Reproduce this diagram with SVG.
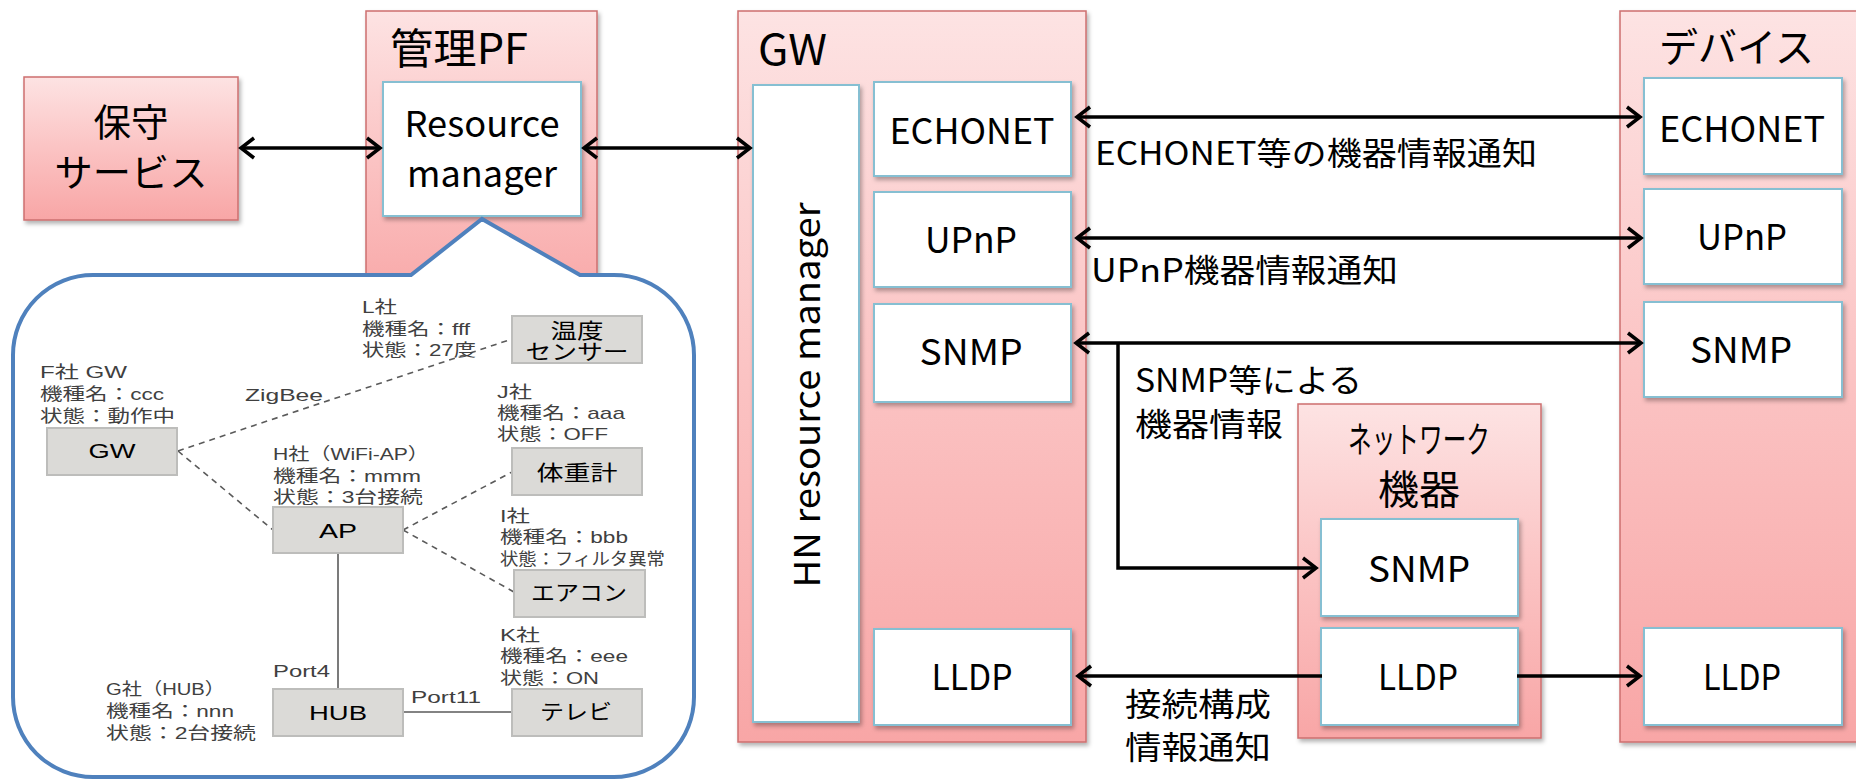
<svg xmlns="http://www.w3.org/2000/svg" width="1856" height="780" viewBox="0 0 1856 780">
<style>
.pk{fill:url(#pinkG);stroke:#cd6f6f;stroke-width:1.5}
.wb{fill:#fff;stroke:#86bfd2;stroke-width:2}
.t{font-family:"Noto Sans CJK JP","Noto Sans",sans-serif;fill:#000}
.m{font-size:36px;text-anchor:middle}
.lb{font-size:32px}
.ib{fill:#dbdad7;stroke:#bdbdbb;stroke-width:2}
.il{font-family:"Liberation Sans","Noto Sans CJK JP",sans-serif;font-size:17px;fill:#404040}
.it{font-family:"Liberation Sans","Noto Sans CJK JP",sans-serif;font-size:21px;fill:#000;text-anchor:middle}
.ar{fill:none;stroke:#000;stroke-width:3.5}
.dl{fill:none;stroke:#5a5a5a;stroke-width:1.6;stroke-dasharray:6 5}
.sl{fill:none;stroke:#5a5a5a;stroke-width:1.6}
</style>
<defs>
<linearGradient id="pinkG" x1="0" y1="0" x2="0" y2="1">
<stop offset="0" stop-color="#fde3e3"/>
<stop offset="0.5" stop-color="#fbc3c3"/>
<stop offset="1" stop-color="#f8a6a6"/>
</linearGradient>
<filter id="sh" x="-10%" y="-10%" width="130%" height="130%">
<feDropShadow dx="2" dy="3" stdDeviation="2" flood-color="#000" flood-opacity="0.3"/>
</filter>
<marker id="ah" viewBox="-16 -12 21 24" refX="0" refY="0" markerWidth="21" markerHeight="24" markerUnits="userSpaceOnUse" orient="auto-start-reverse">
<path d="M-13,-10 L0,0 L-13,10" fill="none" stroke="#000" stroke-width="3.5"/>
</marker>
</defs>
<rect width="1856" height="780" fill="#fff"/>

<g id="hoshu">
<rect class="pk" x="24" y="77" width="214" height="143" filter="url(#sh)"/>
<text class="t" x="131" y="136" font-size="38" text-anchor="middle" textLength="75" lengthAdjust="spacingAndGlyphs">保守</text>
<text class="t" x="131" y="186" font-size="38" text-anchor="middle" textLength="153" lengthAdjust="spacingAndGlyphs">サービス</text>
</g>

<g id="kanri-pf">
<rect class="pk" x="366" y="11" width="231" height="300" filter="url(#sh)"/>
<text class="t" x="390" y="64" font-size="42" textLength="138" lengthAdjust="spacingAndGlyphs">管理PF</text>
</g>

<g id="resource-manager">
<rect class="wb" x="383" y="82" width="198" height="134" filter="url(#sh)"/>
<text class="t m" x="482" y="137" textLength="155" lengthAdjust="spacingAndGlyphs">Resource</text>
<text class="t m" x="482" y="187" textLength="150" lengthAdjust="spacingAndGlyphs">manager</text>
</g>

<g id="gw">
<rect class="pk" x="738" y="11" width="348" height="731" filter="url(#sh)"/>
<text class="t" x="758" y="65" font-size="42" textLength="69" lengthAdjust="spacingAndGlyphs">GW</text>
</g>
<g id="hn-resource-manager">
<rect class="wb" x="753" y="85" width="106" height="637" filter="url(#sh)"/>
<text class="t" transform="translate(820 395) rotate(-90)" font-size="36" text-anchor="middle" textLength="385" lengthAdjust="spacingAndGlyphs">HN resource manager</text>
</g>
<g id="gw-echonet">
<rect class="wb" x="874" y="82" width="197" height="94" filter="url(#sh)"/>
<text class="t m" x="972" y="144" textLength="165" lengthAdjust="spacingAndGlyphs">ECHONET</text>
</g>
<g id="gw-upnp">
<rect class="wb" x="874" y="192" width="197" height="95" filter="url(#sh)"/>
<text class="t m" x="971" y="253" textLength="92" lengthAdjust="spacingAndGlyphs">UPnP</text>
</g>
<g id="gw-snmp">
<rect class="wb" x="874" y="304" width="197" height="98" filter="url(#sh)"/>
<text class="t m" x="971" y="365" textLength="103" lengthAdjust="spacingAndGlyphs">SNMP</text>
</g>
<g id="gw-lldp">
<rect class="wb" x="874" y="629" width="197" height="96" filter="url(#sh)"/>
<text class="t m" x="972" y="690" textLength="81" lengthAdjust="spacingAndGlyphs">LLDP</text>
</g>

<g id="device">
<rect class="pk" x="1620" y="11" width="250" height="731" filter="url(#sh)"/>
<text class="t" x="1659" y="62" font-size="40" textLength="155" lengthAdjust="spacingAndGlyphs">デバイス</text>
</g>
<g id="dev-echonet">
<rect class="wb" x="1644" y="78" width="198" height="96" filter="url(#sh)"/>
<text class="t m" x="1742" y="142" textLength="166" lengthAdjust="spacingAndGlyphs">ECHONET</text>
</g>
<g id="dev-upnp">
<rect class="wb" x="1644" y="189" width="198" height="95" filter="url(#sh)"/>
<text class="t m" x="1742" y="250" textLength="90" lengthAdjust="spacingAndGlyphs">UPnP</text>
</g>
<g id="dev-snmp">
<rect class="wb" x="1644" y="302" width="198" height="95" filter="url(#sh)"/>
<text class="t m" x="1741" y="363" textLength="102" lengthAdjust="spacingAndGlyphs">SNMP</text>
</g>
<g id="dev-lldp">
<rect class="wb" x="1644" y="628" width="198" height="97" filter="url(#sh)"/>
<text class="t m" x="1742" y="690" textLength="78" lengthAdjust="spacingAndGlyphs">LLDP</text>
</g>

<g id="network-device">
<rect class="pk" x="1298" y="404" width="243" height="334" filter="url(#sh)"/>
<text class="t" x="1419" y="453" font-size="36" text-anchor="middle" textLength="142" lengthAdjust="spacingAndGlyphs">ネットワーク</text>
<text class="t" x="1419" y="504" font-size="40" text-anchor="middle" textLength="82" lengthAdjust="spacingAndGlyphs">機器</text>
</g>
<g id="net-snmp">
<rect class="wb" x="1321" y="519" width="197" height="97" filter="url(#sh)"/>
<text class="t m" x="1419" y="582" textLength="102" lengthAdjust="spacingAndGlyphs">SNMP</text>
</g>
<g id="net-lldp">
<rect class="wb" x="1321" y="628" width="197" height="97" filter="url(#sh)"/>
<text class="t m" x="1418" y="690" textLength="80" lengthAdjust="spacingAndGlyphs">LLDP</text>
</g>

<g id="connectors">
<path class="ar" d="M241,148 H380" marker-start="url(#ah)" marker-end="url(#ah)"/>
<path class="ar" d="M584,148 H750" marker-start="url(#ah)" marker-end="url(#ah)"/>
<path class="ar" d="M1077,117 H1640" marker-start="url(#ah)" marker-end="url(#ah)"/>
<path class="ar" d="M1077,238 H1641" marker-start="url(#ah)" marker-end="url(#ah)"/>
<path class="ar" d="M1076,343 H1641" marker-start="url(#ah)" marker-end="url(#ah)"/>
<path class="ar" d="M1118,343 V568 H1316" marker-end="url(#ah)"/>
<path class="ar" d="M1322,676 H1078" marker-end="url(#ah)"/>
<path class="ar" d="M1517,676 H1640" marker-end="url(#ah)"/>
</g>

<g id="labels">
<text class="t lb" x="1095" y="165" textLength="442" lengthAdjust="spacingAndGlyphs">ECHONET等の機器情報通知</text>
<text class="t lb" x="1091" y="282" textLength="307" lengthAdjust="spacingAndGlyphs">UPnP機器情報通知</text>
<text class="t lb" x="1135" y="392" textLength="227" lengthAdjust="spacingAndGlyphs">SNMP等による</text>
<text class="t lb" x="1135" y="436" textLength="148" lengthAdjust="spacingAndGlyphs">機器情報</text>
<text class="t lb" x="1125" y="716" textLength="146" lengthAdjust="spacingAndGlyphs">接続構成</text>
<text class="t lb" x="1125" y="759" textLength="146" lengthAdjust="spacingAndGlyphs">情報通知</text>
</g>

<g id="callout">
<path d="M93,275 H411 L482,219 L580,275 H614 A80,80 0 0 1 694,355 V697 A80,80 0 0 1 614,777 H93 A80,80 0 0 1 13,697 V355 A80,80 0 0 1 93,275 Z" fill="#fff" stroke="#4f81bd" stroke-width="4" stroke-linejoin="miter"/>
</g>

<g id="net-connectors">
<path class="dl" d="M178,451 L512,339"/>
<path class="dl" d="M178,451 L273,530"/>
<path class="dl" d="M403,530 L512,472"/>
<path class="dl" d="M403,530 L514,592"/>
<path class="sl" d="M338,553 V689"/>
<path class="sl" d="M403,712 H512"/>
</g>

<g id="n-gw">
<rect class="ib" x="47" y="428" width="130" height="47"/>
<text class="it" x="112" y="458" textLength="47" lengthAdjust="spacingAndGlyphs">GW</text>
</g>
<g id="n-ap">
<rect class="ib" x="273" y="507" width="130" height="46"/>
<text class="it" x="338" y="538" textLength="38" lengthAdjust="spacingAndGlyphs">AP</text>
</g>
<g id="n-hub">
<rect class="ib" x="273" y="689" width="130" height="47"/>
<text class="it" x="338" y="720" textLength="58" lengthAdjust="spacingAndGlyphs">HUB</text>
</g>
<g id="n-temp">
<rect class="ib" x="512" y="316" width="130" height="47"/>
<text class="it" x="577" y="338" font-size="18" textLength="53" lengthAdjust="spacingAndGlyphs">温度</text>
<text class="it" x="577" y="359" font-size="18" textLength="103" lengthAdjust="spacingAndGlyphs">センサー</text>
</g>
<g id="n-scale">
<rect class="ib" x="512" y="448" width="130" height="47"/>
<text class="it" x="577" y="480" font-size="20" textLength="81" lengthAdjust="spacingAndGlyphs">体重計</text>
</g>
<g id="n-aircon">
<rect class="ib" x="514" y="570" width="131" height="47"/>
<text class="it" x="579" y="600" font-size="20" textLength="96" lengthAdjust="spacingAndGlyphs">エアコン</text>
</g>
<g id="n-tv">
<rect class="ib" x="512" y="689" width="130" height="47"/>
<text class="it" x="576" y="719" font-size="20" textLength="72" lengthAdjust="spacingAndGlyphs">テレビ</text>
</g>

<g id="net-labels">
<text class="il" x="40" y="378" textLength="87" lengthAdjust="spacingAndGlyphs">F社 GW</text>
<text class="il" x="40" y="400" textLength="124" lengthAdjust="spacingAndGlyphs">機種名：ccc</text>
<text class="il" x="40" y="422" textLength="135" lengthAdjust="spacingAndGlyphs">状態：動作中</text>
<text class="il" x="245" y="401" textLength="78" lengthAdjust="spacingAndGlyphs">ZigBee</text>
<text class="il" x="362" y="313" textLength="35" lengthAdjust="spacingAndGlyphs">L社</text>
<text class="il" x="362" y="335" textLength="108" lengthAdjust="spacingAndGlyphs">機種名：fff</text>
<text class="il" x="362" y="356" textLength="114" lengthAdjust="spacingAndGlyphs">状態：27度</text>
<text class="il" x="497" y="398" textLength="35" lengthAdjust="spacingAndGlyphs">J社</text>
<text class="il" x="497" y="419" textLength="128" lengthAdjust="spacingAndGlyphs">機種名：aaa</text>
<text class="il" x="497" y="440" textLength="111" lengthAdjust="spacingAndGlyphs">状態：OFF</text>
<text class="il" x="273" y="460" textLength="156" lengthAdjust="spacingAndGlyphs">H社（WiFi-AP）</text>
<text class="il" x="273" y="482" textLength="148" lengthAdjust="spacingAndGlyphs">機種名：mmm</text>
<text class="il" x="273" y="503" textLength="150" lengthAdjust="spacingAndGlyphs">状態：3台接続</text>
<text class="il" x="500" y="522" textLength="30" lengthAdjust="spacingAndGlyphs">I社</text>
<text class="il" x="500" y="543" textLength="128" lengthAdjust="spacingAndGlyphs">機種名：bbb</text>
<text class="il" x="500" y="565" textLength="165" lengthAdjust="spacingAndGlyphs">状態：フィルタ異常</text>
<text class="il" x="500" y="641" textLength="40" lengthAdjust="spacingAndGlyphs">K社</text>
<text class="il" x="500" y="662" textLength="128" lengthAdjust="spacingAndGlyphs">機種名：eee</text>
<text class="il" x="500" y="684" textLength="99" lengthAdjust="spacingAndGlyphs">状態：ON</text>
<text class="il" x="273" y="677" textLength="57" lengthAdjust="spacingAndGlyphs">Port4</text>
<text class="il" x="411" y="703" textLength="70" lengthAdjust="spacingAndGlyphs">Port11</text>
<text class="il" x="106" y="695" textLength="119" lengthAdjust="spacingAndGlyphs">G社（HUB）</text>
<text class="il" x="106" y="717" textLength="128" lengthAdjust="spacingAndGlyphs">機種名：nnn</text>
<text class="il" x="106" y="739" textLength="150" lengthAdjust="spacingAndGlyphs">状態：2台接続</text>
</g>
</svg>
